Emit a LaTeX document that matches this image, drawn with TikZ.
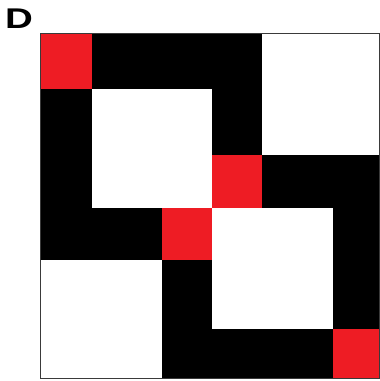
\documentclass[tikz,border=0pt]{standalone}
\usepackage{fontspec}
\setmainfont{Liberation Sans}
\usetikzlibrary{positioning}
\definecolor{BlockRed}{HTML}{EE1C24}
\definecolor{BlockEdge}{HTML}{3A3A3A}

\begin{document}
\begin{tikzpicture}[x=1pt,y=-1pt,
  blk/.style={fill=black},
  hit/.style={fill=BlockRed},
  gap/.style={fill=white},
  frame/.style={draw=BlockEdge,line width=1.2pt},
  panel/.style={inner sep=0pt,anchor=base west,font=\fontsize{28.5}{29}\selectfont\bfseries}
]
\useasboundingbox (0,0) rectangle (380,381);
\node[panel] (tag) at (5,28) {\scalebox{1.35}[1]{D}};
% black ground of the matrix
\fill[blk] (40,33) rectangle (380,379);
% white blocks
\fill[gap] (262,33) rectangle (380,155);
\fill[gap] (92,89) rectangle (212,208);
\fill[gap] (212,208) rectangle (333,329);
\fill[gap] (40,260) rectangle (162,379);
% red cells
\foreach \xa/\ya/\xb/\yb in {40/33/92/89, 212/155/262/208, 162/208/212/260, 333/329/380/379}
  \fill[hit] (\xa,\ya) rectangle (\xb,\yb);
\draw[frame] (40.5,33.5) rectangle (379.5,378.5);
\end{tikzpicture}
\end{document}
